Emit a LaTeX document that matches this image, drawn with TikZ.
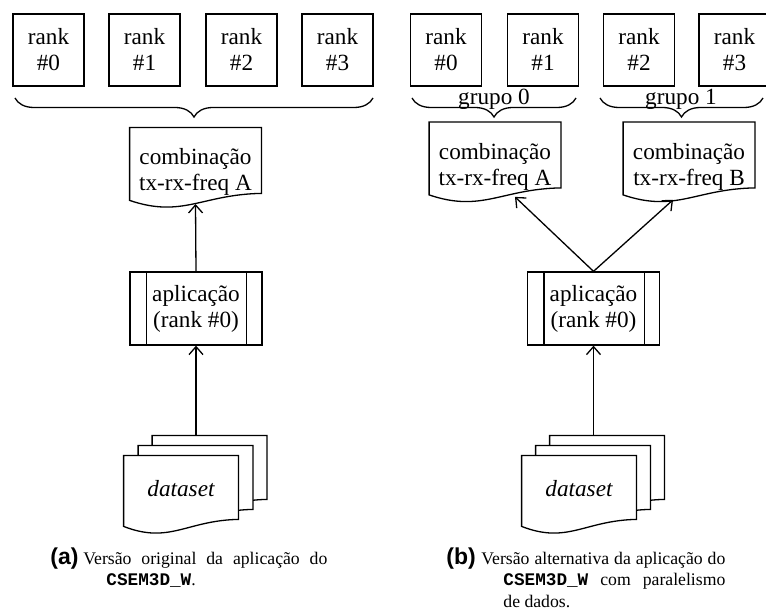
\documentclass[tikz,border=0pt]{standalone}
\usepackage{fontspec}
\setmainfont{Liberation Serif}
\newfontfamily\capsans{Liberation Sans}
\newfontfamily\capmono{Liberation Mono}
\usetikzlibrary{calc,decorations.pathreplacing,arrows.meta}
\newcommand{\rs}{\rule[-2pt]{0pt}{12pt}}
\newcommand{\docoutline}[1]{%
 \draw[thinline, fill=white] (#1.north west) -- (#1.north east) -- ($(#1.south east)+(0,7pt)$)
 .. controls ($(#1.south east)!0.45!(#1.south west)+(0,6.5pt)$) and ($(#1.south west)!0.4!(#1.south east)+(0,-5.5pt)$)
 .. ($(#1.south west)+(0,3.5pt)$) -- cycle;}
\newcommand{\appbars}[1]{%
 \draw[thinline] ([xshift=8.5pt]#1.north west) -- ([xshift=8.5pt]#1.south west);
 \draw[thinline] ([xshift=-8pt]#1.north east) -- ([xshift=-8pt]#1.south east);}
\begin{document}
\begin{tikzpicture}[x=0.5pt,y=-0.5pt,
  every node/.style={font=\fontsize{11.6}{13}\selectfont},
  thinline/.style={line width=0.65pt},
  rankbox/.style={draw, line width=0.65pt, minimum width=35.5pt, minimum height=36pt, inner sep=0pt, align=center},
  appbox/.style={draw, line width=0.65pt, minimum width=66pt, minimum height=36.5pt, inner sep=0pt, align=center},
  docbox/.style={minimum width=65.5pt, minimum height=39.5pt, inner sep=0pt},
  dsbox/.style={minimum width=57pt, minimum height=38.5pt, inner sep=0pt},
  txt/.style={align=center, inner sep=0pt},
  grp/.style={decorate, decoration={brace, mirror, amplitude=9.5pt}, line width=0.65pt},
  arr/.style={-{Straight Barb[length=4pt,width=7pt,line width=0.65pt]}, line width=0.65pt},
  captext/.style={font=\fontsize{8.85}{10.5}\selectfont, inner sep=0pt, anchor=base west},
  caplab/.style={font=\capsans\bfseries\fontsize{11.5}{13}\selectfont, inner sep=0pt, anchor=base west},
]
\useasboundingbox (0,0) rectangle (766,614);

% ---------- left diagram ----------
\node[rankbox] (lr0) at (48.5,50) {\rs rank\\\rs\#0};
\node[rankbox] (lr1) at (144.5,50) {\rs rank\\\rs\#1};
\node[rankbox] (lr2) at (241.5,50) {\rs rank\\\rs\#2};
\node[rankbox] (lr3) at (337.5,50) {\rs rank\\\rs\#3};
\draw[grp] (15,98) -- (373,98);

\node[docbox] (docL) at (195.5,167.5) {};
\docoutline{docL}
\node[txt] (docLt) at (195.5,172) {combinação\\tx-rx-freq A};

\node[appbox] (appL) at (196,308.5) {aplicação\\(rank \#0)};
\appbars{appL}

\node[dsbox] (dsL3) at (209.5,474.5) {};
\docoutline{dsL3}
\node[dsbox] (dsL2) at (195.5,484.5) {};
\docoutline{dsL2}
\node[dsbox] (dsL1) at (181,494.5) {};
\docoutline{dsL1}
\node[txt] (dsL1t) at (181,488.5) {\itshape dataset};

\draw[arr] (appL.south |- dsL3.north) -- (appL.south);
\draw[arr] (appL.north) -- ([yshift=1.7pt]docL.south);

% ---------- right diagram ----------
\node[rankbox] (rr0) at (446,50) {\rs rank\\\rs\#0};
\node[rankbox] (rr1) at (543,50) {\rs rank\\\rs\#1};
\node[rankbox] (rr2) at (639,50) {\rs rank\\\rs\#2};
\node[rankbox] (rr3) at (734.5,50) {\rs rank\\\rs\#3};
\draw[grp] (412,98) -- (576,98);
\draw[grp] (600,98) -- (763,98);
\node[anchor=base, inner sep=0pt] (g0) at (494,104.5) {grupo 0};
\node[anchor=base, inner sep=0pt] (g1) at (681,104.5) {grupo 1};

\node[docbox] (docA) at (495,162) {};
\docoutline{docA}
\node[txt] (docAt) at (495,167) {combinação\\tx-rx-freq A};
\node[docbox] (docB) at (689,162) {};
\docoutline{docB}
\node[txt] (docBt) at (689,167) {combinação\\tx-rx-freq B};

\node[appbox] (appR) at (593.5,308.5) {aplicação\\(rank \#0)};
\appbars{appR}

\node[dsbox] (dsR3) at (607,474.5) {};
\docoutline{dsR3}
\node[dsbox] (dsR2) at (593,484.5) {};
\docoutline{dsR2}
\node[dsbox] (dsR1) at (579,494.5) {};
\docoutline{dsR1}
\node[txt] (dsR1t) at (579,488.5) {\itshape dataset};

\draw[arr] (appR.south |- dsR3.north) -- (appR.south);
\draw[arr] (appR.north) -- ([xshift=10pt,yshift=2.5pt]docA.south);
\draw[arr] (appR.north) -- ([xshift=-8pt,yshift=1pt]docB.south);

% ---------- captions ----------
\node[caplab] (capAl) at (50,565) {(a)};
\node[captext] (capA1) at (83,565) {\makebox[122pt][s]{Versão original da aplicação do}};
\node[captext] (capA2) at (106,586) {{\capmono\bfseries CSEM3D\_W}.};
\node[caplab] (capBl) at (446,565) {(b)};
\node[captext] (capB1) at (481,565) {\makebox[122pt][s]{Versão alternativa da aplicação do}};
\node[captext] (capB2) at (503,586) {\makebox[111pt][s]{{\capmono\bfseries CSEM3D\_W} com paralelismo}};
\node[captext] (capB3) at (503,607) {de dados.};
\end{tikzpicture}
\end{document}
